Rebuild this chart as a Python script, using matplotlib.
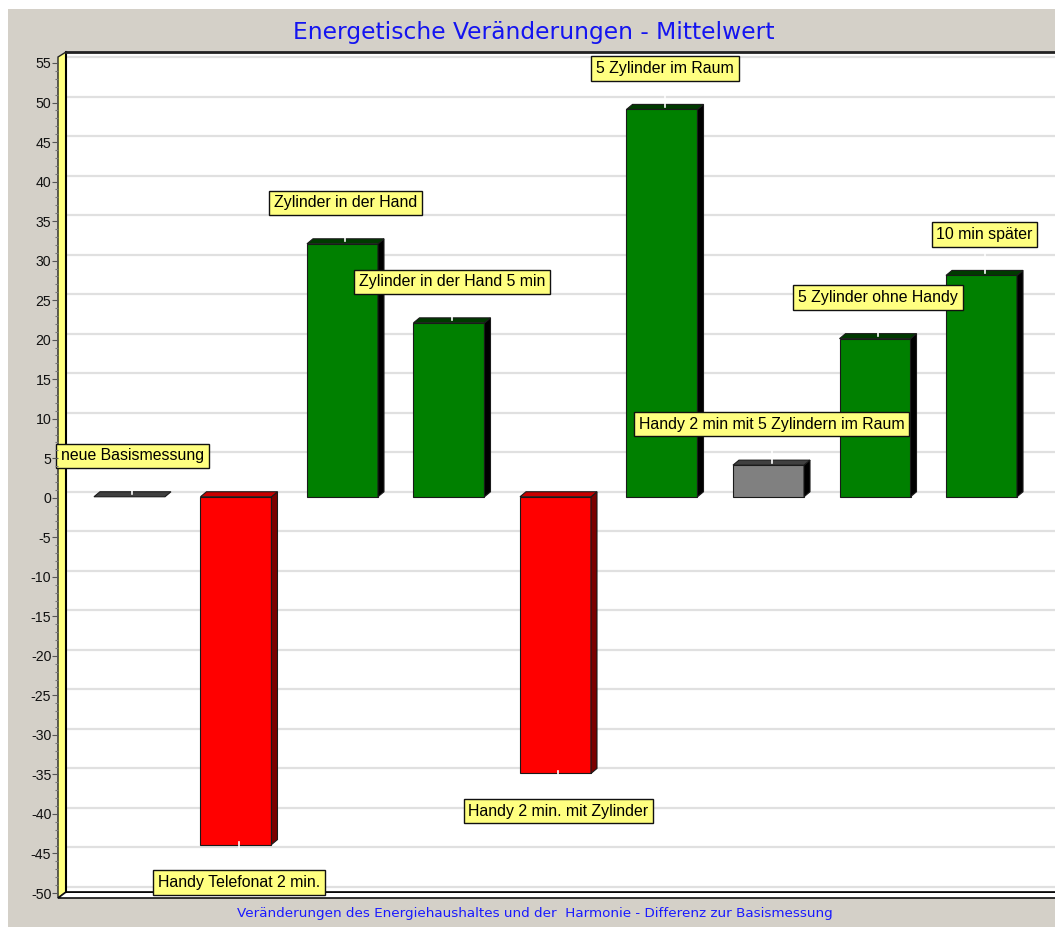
import matplotlib
matplotlib.use('Agg')
import matplotlib.pyplot as plt
from matplotlib.patches import Polygon, Rectangle
from matplotlib.ticker import MultipleLocator

# ---------------- data ----------------
labels = ["neue Basismessung", "Handy Telefonat 2 min.", "Zylinder in der Hand",
          "Zylinder in der Hand 5 min", "Handy 2 min. mit Zylinder", "5 Zylinder im Raum",
          "Handy 2 min mit 5 Zylindern im Raum", "5 Zylinder ohne Handy", "10 min später"]
values = [0, -44, 32, 22, -35, 49, 4, 20, 28]
kinds = ["base", "neg", "pos", "pos", "neg", "pos", "neutral", "pos", "pos"]
y_ticks = list(range(-50, 56, 5))
title = "Energetische Veränderungen - Mittelwert"
subtitle = "Veränderungen des Energiehaushaltes und der  Harmonie - Differenz zur Basismessung"

# ---------------- styles ----------------
W, H = 1055, 927
face = {"pos": "#008000", "neg": "#ff0000", "neutral": "#808080", "base": "#404040"}
top_c = {"pos": "#003a00", "neg": "#c80000", "neutral": "#404040", "base": "#404040"}
side_c = {"pos": "#000000", "neg": "#7a0000", "neutral": "#000000", "base": "#404040"}

fig = plt.figure(figsize=(W / 100, H / 100), dpi=100, facecolor="white")

def P(x, y):
    return (x / W, 1 - y / H)

fig.add_artist(Rectangle(P(8, H), 1, 1 - 9 / H, transform=fig.transFigure,
                         facecolor="#d4d0c8", edgecolor="none", zorder=-10))

# plot box in pixels
L, R, T, B = 66, W, 52, 892
ax = fig.add_axes([L / W, 1 - B / H, (R - L) / W, (B - T) / H])
ax.set_xlim(-0.596, 8.69)
ax.set_ylim(-50.63, 55.63)
ax.set_yticks(y_ticks)
ax.yaxis.grid(True, color="#e0e0e0", lw=1.6)
ax.set_axisbelow(True)
ax.tick_params(left=False, labelleft=False, bottom=False, labelbottom=False)
ax.set_xticks([])
ax.spines["right"].set_visible(False)
ax.spines["top"].set_color("#222222"); ax.spines["top"].set_linewidth(2)
ax.spines["left"].set_color("#000000"); ax.spines["left"].set_linewidth(1.5)
ax.spines["bottom"].set_color("#000000"); ax.spines["bottom"].set_linewidth(1.2)

fig.canvas.draw()
bb = ax.get_window_extent()
xl, yl = ax.get_xlim(), ax.get_ylim()
ppx = bb.width / (xl[1] - xl[0])
ppy = bb.height / (yl[1] - yl[0])
dx = 6 / ppx
dy = 5 / ppy
bw = 71 / ppx

for i, (v, k, lab) in enumerate(zip(values, kinds, labels)):
    lo, hi = min(v, 0), max(v, 0)
    x0, x1 = i - bw / 2, i + bw / 2
    if v != 0:
        ax.bar(i, v, bottom=-dy, width=bw, color=face[k], edgecolor="#1a1a1a",
               lw=0.8, zorder=3)
        ax.add_patch(Polygon([(x1, lo - dy), (x1, hi - dy), (x1 + dx, hi), (x1 + dx, lo)],
                             closed=True, facecolor=side_c[k], edgecolor="#1a1a1a",
                             lw=0.8, zorder=3))
    ax.add_patch(Polygon([(x0, hi - dy), (x1, hi - dy), (x1 + dx, hi), (x0 + dx, hi)],
                         closed=True, facecolor=top_c[k], edgecolor="#1a1a1a",
                         lw=0.8, zorder=3))
    ly = v + 4.55 if v >= 0 else v - 5.4
    ax.plot([i + dx / 2] * 2, [ly, v - dy / 2], color="white", lw=1.2, zorder=4)
    ax.text(i + dx / 2, ly, lab, ha="center", va="center", fontsize=11.4,
            family="Liberation Sans", color="black", zorder=6,
            bbox=dict(boxstyle="square,pad=0.3", fc="#ffff80", ec="#111111", lw=1))

# front axis with ticks (3D front plane)
tax = fig.add_axes([58 / W, 1 - (B + 6) / H, 8 / W, (B - T) / H])
tax.set_ylim(yl)
tax.patch.set_alpha(0)
for s in tax.spines.values():
    s.set_visible(False)
tax.set_xticks([])
tax.yaxis.set_minor_locator(MultipleLocator(1))
tax.set_yticks(y_ticks)
tax.set_yticklabels([str(t) for t in y_ticks], fontsize=10.2, family="Liberation Sans",
                    color="#111111")
tax.tick_params(axis="y", which="major", length=4.3, width=0.8, color="#555555", pad=0.5)
tax.tick_params(axis="y", which="minor", length=2.2, width=0.8, color="#777777")

# yellow wall and floor (behind the plot so labels stay on top)
fig.add_artist(Polygon([P(58, B + 6), P(58, T + 5), P(66, T), P(66, B)], closed=True,
                       transform=fig.transFigure, facecolor="#ffff80",
                       edgecolor="#222222", lw=1.0, zorder=-1))
fig.add_artist(Polygon([P(58, B + 6), P(66, B), P(W + 2, B), P(W + 2, B + 6)], closed=True,
                       transform=fig.transFigure, facecolor="white",
                       edgecolor="#111111", lw=1.2, zorder=-1))

fig.text(534 / W, 1 - 32 / H, title, ha="center", va="center", fontsize=16.8,
         family="DejaVu Sans", color="#1414f0")
fig.text(535 / W, 1 - 914 / H, subtitle, ha="center", va="center", fontsize=9.7,
         family="DejaVu Sans", color="#1a1aff")

fig.savefig("out.png", dpi=100, facecolor=fig.get_facecolor())
